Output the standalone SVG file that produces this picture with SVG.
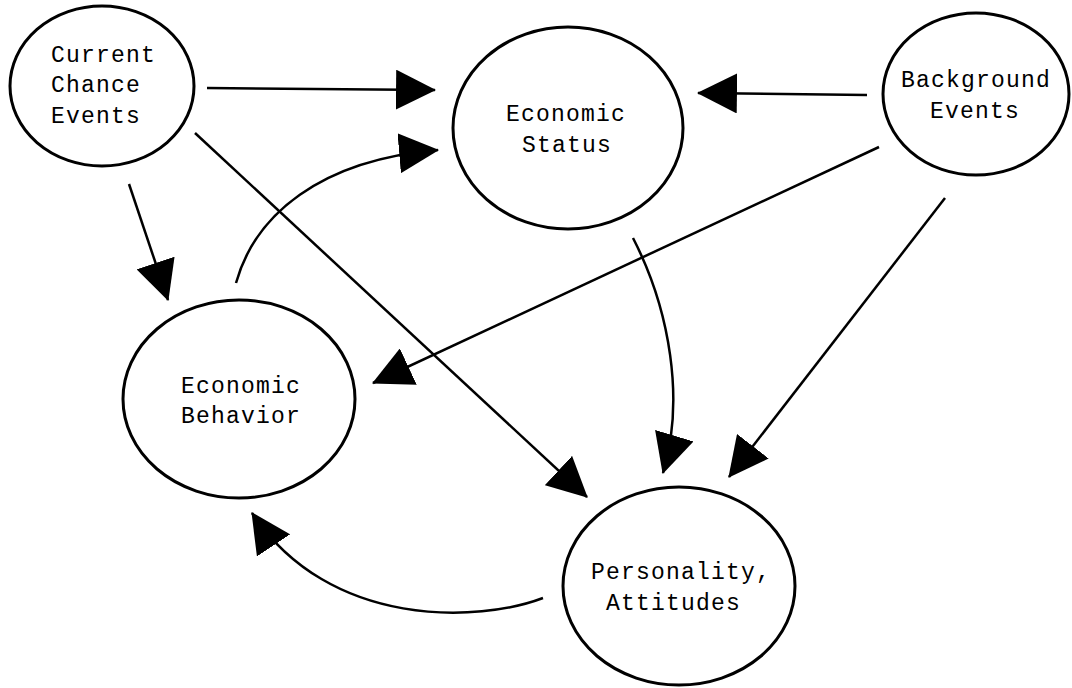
<svg xmlns="http://www.w3.org/2000/svg" width="1072" height="688" viewBox="0 0 1072 688">
<defs>
<style>
.n{fill:#fff;stroke:#000;stroke-width:3}
.t{font-family:"Liberation Mono","DejaVu Sans Mono",monospace;font-size:23px;letter-spacing:1.2px;fill:#000}
.c{fill:none;stroke:#000;stroke-width:2.5}
</style>
<marker id="ah" markerUnits="userSpaceOnUse" markerWidth="40" markerHeight="40" viewBox="0 0 38 38" refX="37" refY="19" orient="auto">
<path d="M0,0 L38,19 L0,38 z" fill="#000"/>
</marker>
</defs>
<rect width="1072" height="688" fill="#fff"/>
<g id="connectors">
<path class="c" d="M207,88 L435,90" marker-end="url(#ah)"/>
<path class="c" d="M867,95 L698,93" marker-end="url(#ah)"/>
<path class="c" d="M129,184 L168,300" marker-end="url(#ah)"/>
<path class="c" d="M236,283 C255,215 320,160 438,150" marker-end="url(#ah)"/>
<path class="c" d="M195,133 L587,497" marker-end="url(#ah)"/>
<path class="c" d="M879,147 L373,383" marker-end="url(#ah)"/>
<path class="c" d="M633,238 C670,310 685,400 663,473" marker-end="url(#ah)"/>
<path class="c" d="M945,198 L729,477" marker-end="url(#ah)"/>
<path class="c" d="M543,598 C480,622 330,630 252,513" marker-end="url(#ah)"/>
</g>
<g id="current-chance-events">
<ellipse class="n" cx="102" cy="86" rx="92" ry="80"/>
<text class="t" x="51" y="62">Current</text>
<text class="t" x="51" y="92">Chance</text>
<text class="t" x="51" y="123">Events</text>
</g>
<g id="economic-status">
<ellipse class="n" cx="568" cy="128" rx="115" ry="101"/>
<text class="t" x="506" y="121">Economic</text>
<text class="t" x="522" y="152">Status</text>
</g>
<g id="background-events">
<ellipse class="n" cx="976" cy="94" rx="93" ry="81"/>
<text class="t" x="901" y="87">Background</text>
<text class="t" x="930" y="118">Events</text>
</g>
<g id="economic-behavior">
<ellipse class="n" cx="239" cy="399" rx="116" ry="99"/>
<text class="t" x="181" y="393">Economic</text>
<text class="t" x="181" y="423">Behavior</text>
</g>
<g id="personality-attitudes">
<ellipse class="n" cx="679" cy="586" rx="116" ry="99"/>
<text class="t" x="591" y="579">Personality,</text>
<text class="t" x="606" y="610">Attitudes</text>
</g>
</svg>
